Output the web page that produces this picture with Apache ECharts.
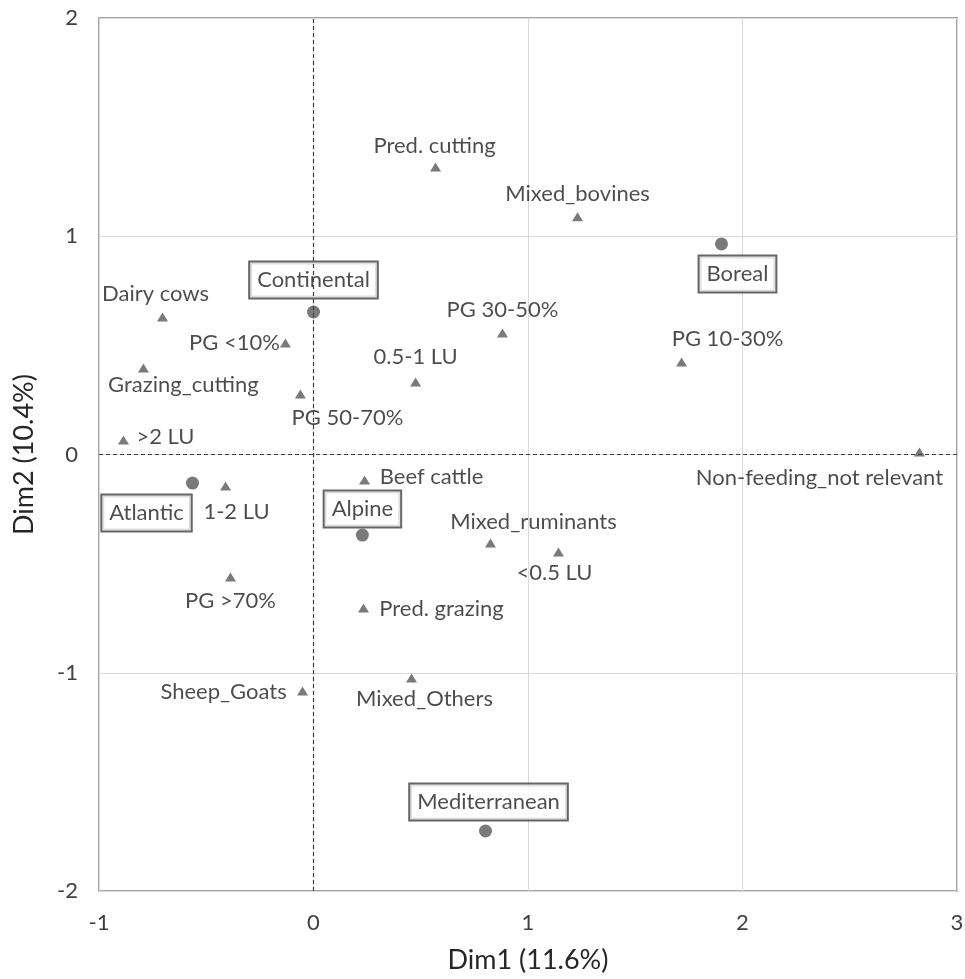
<!DOCTYPE html>
<html>
<head>
<meta charset="utf-8">
<script src="https://cdn.jsdelivr.net/npm/echarts@6/dist/echarts.min.js"></script>
<style>html,body{margin:0;padding:0;background:#fff}#c{width:965px;height:979px}</style>
</head>
<body>
<div id="c"></div>
<script>
// ---- data ----
var traitNames = ["Pred. cutting","Mixed_bovines","PG 30-50%","0.5-1 LU","PG 50-70%","PG 10-30%","Non-feeding_not relevant","Dairy cows","PG <10%","Grazing_cutting",">2 LU","1-2 LU","PG >70%","Sheep_Goats","Beef cattle","Mixed_ruminants","<0.5 LU","Pred. grazing","Mixed_Others"];
var traitDim1 = [0.569,1.231,0.881,0.476,-0.061,1.716,2.825,-0.704,-0.131,-0.793,-0.886,-0.410,-0.387,-0.051,0.238,0.825,1.142,0.233,0.457];
var traitDim2 = [1.317,1.089,0.557,0.332,0.277,0.424,0.011,0.630,0.511,0.396,0.066,-0.144,-0.561,-1.084,-0.117,-0.405,-0.447,-0.703,-1.024];
var regionNames = ["Continental","Boreal","Atlantic","Alpine","Mediterranean"];
var regionDim1 = [0.000,1.902,-0.564,0.228,0.802];
var regionDim2 = [0.653,0.965,-0.131,-0.369,-1.725];
var xTicks = [-1,0,1,2,3];
var yTicks = [-2,-1,0,1,2];

// ---- label placement (text centre offset from marker, px) ----
var traitLabelOffset = [[-1,-21],[0,-23],[0,-23],[0,-25],[47,24],[46,-23],[-100,26],[-7,-23],[-51,0],[40,17],[42,-3],[11,26],[0,24],[-79,1],[67,-3],[43,-21],[-4,21],[78,1],[13,21]];
var regionLabelOffset = [[0,-32],[16,30],[-46,30],[0,-26],[3,-29]];

var FONT = 'Lato';
var traitData = traitNames.map(function(n,i){
  return {name:n, value:[traitDim1[i],traitDim2[i]],
    label:{offset:traitLabelOffset[i]}};
});
var regionData = regionNames.map(function(n,i){
  return {name:n, value:[regionDim1[i],regionDim2[i]],
    label:{offset:regionLabelOffset[i]}};
});

var chart = echarts.init(document.getElementById('c'), null, {renderer:'canvas'});
chart.setOption({
  animation:false,
  backgroundColor:'#fff',
  grid:{left:99,right:8,top:18,bottom:88,show:true,borderColor:'#a6a6a6',borderWidth:2,backgroundColor:'transparent',
    containLabel:false,outerBoundsMode:'none'},
  xAxis:{type:'value',min:xTicks[0],max:xTicks[xTicks.length-1],interval:1,
    name:'Dim1 (11.6%)',nameLocation:'middle',nameGap:56,
    nameTextStyle:{fontFamily:FONT,fontSize:27,color:'#262626'},
    axisLine:{show:false},axisTick:{show:false},
    axisLabel:{fontFamily:FONT,fontSize:22,color:'#404040',margin:21},
    splitLine:{show:true,lineStyle:{color:'#d9d9d9',width:1}}},
  yAxis:{type:'value',min:yTicks[0],max:yTicks[yTicks.length-1],interval:1,
    name:'Dim2 (10.4%)',nameLocation:'middle',nameGap:61,
    nameTextStyle:{fontFamily:FONT,fontSize:27,color:'#262626'},
    axisLine:{show:false},axisTick:{show:false},
    axisLabel:{fontFamily:FONT,fontSize:22,color:'#404040',margin:21},
    splitLine:{show:true,lineStyle:{color:'#d9d9d9',width:1}}},
  series:[
    {type:'scatter',data:[],silent:true,
     markLine:{silent:true,symbol:['none','none'],label:{show:false},
       lineStyle:{color:'#404040',type:[4,3],width:1.2},
       data:[{xAxis:0},{yAxis:0}]}},
    {type:'scatter',name:'traits',data:traitData,symbol:'triangle',symbolSize:[11,9],
     itemStyle:{color:'#595959'},
     label:{show:true,formatter:'{b}',position:['50%','50%'],align:'center',verticalAlign:'middle',
       fontFamily:FONT,fontSize:22,color:'#1f1f1f'}},
    {type:'scatter',name:'regions',data:regionData,symbol:'circle',symbolSize:13,
     itemStyle:{color:'#595959'},z:3,
     label:{show:true,formatter:'{b}',position:['50%','50%'],align:'center',verticalAlign:'middle',
       fontFamily:FONT,fontSize:22,color:'#1f1f1f',backgroundColor:'#fff',
       borderColor:'#404040',borderWidth:2,padding:[7,7,6,7]}}
  ]
});
</script>
</body>
</html>
